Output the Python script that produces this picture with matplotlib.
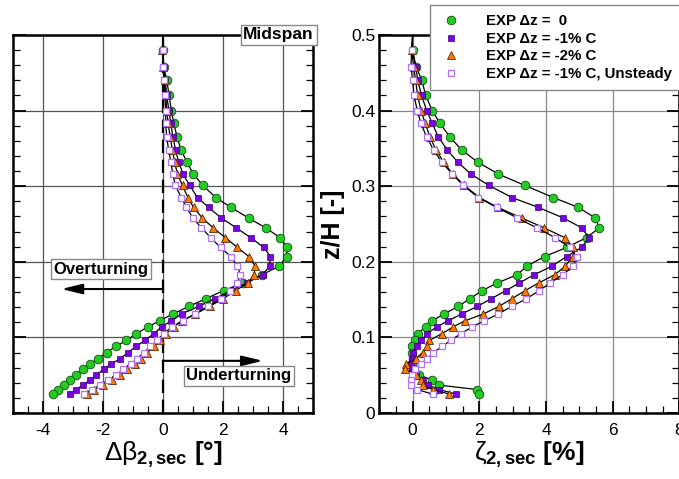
"""
plot.py
=======
Secondary flow profiles downstream of the cascade: pitch-averaged secondary
flow angle deviation and secondary loss coefficient over span (hub to midspan)
for three endwall offsets plus the unsteady -1% C case.
"""

import numpy as np
import matplotlib
matplotlib.use("Agg")
import matplotlib.pyplot as plt
from matplotlib.lines import Line2D
from matplotlib.ticker import MultipleLocator, FuncFormatter

plt.rcParams['font.family'] = ['Liberation Sans', 'DejaVu Sans']
plt.rcParams['mathtext.fontset'] = 'custom'
plt.rcParams['mathtext.rm'] = 'Liberation Sans'
plt.rcParams['mathtext.it'] = 'Liberation Sans'
plt.rcParams['mathtext.bf'] = 'Liberation Sans:bold'

# -----------------------------------------------------------------------------
# Measured profiles (first entry is the midspan anchor, drawn without marker)
# -----------------------------------------------------------------------------
SERIES_LABELS = [
    "EXP \u0394z =  0",
    "EXP \u0394z = -1% C",
    "EXP \u0394z = -2% C",
    "EXP \u0394z = -1% C, Unsteady",
]

Z_SPAN = [0.50, 0.48, 0.458, 0.44, 0.42, 0.40, 0.383, 0.365, 0.348, 0.332,
          0.316, 0.301, 0.285, 0.272, 0.258, 0.245, 0.232, 0.219, 0.207, 0.194,
          0.183, 0.172, 0.162, 0.151, 0.141, 0.131, 0.122, 0.114, 0.105, 0.096,
          0.088, 0.080, 0.072, 0.065, 0.058, 0.050, 0.044, 0.037, 0.031, 0.025]

# delta beta_2,sec [deg]
DBETA_DZ0 = [0.0, 0.0, 0.02, 0.13, 0.2, 0.28, 0.36, 0.47, 0.6, 0.8,
             1.01, 1.33, 1.76, 2.26, 2.85, 3.42, 3.9, 4.14, 4.12, 3.87,
             3.3, 2.68, 2.02, 1.42, 0.86, 0.33, -0.11, -0.5, -0.89, -1.22,
             -1.58, -1.88, -2.17, -2.43, -2.67, -2.89, -3.1, -3.31, -3.5, -3.67]
DBETA_DZ1 = [0.0, 0.0, 0.02, 0.08, 0.12, 0.2, 0.26, 0.33, 0.42, 0.52,
             0.67, 0.89, 1.15, 1.52, 1.94, 2.44, 2.92, 3.36, 3.58, 3.55,
             3.32, 2.8, 2.25, 1.72, 1.19, 0.62, 0.28, -0.05, -0.3, -0.61,
             -0.89, -1.17, -1.42, -1.72, -1.98, -2.22, -2.42, -2.67, -2.89, -3.11]
DBETA_DZ2 = [0.0, -0.02, 0.0, 0.05, 0.09, 0.13, 0.17, 0.24, 0.31, 0.39,
             0.48, 0.65, 0.83, 1.02, 1.31, 1.67, 2.08, 2.48, 2.86, 3.08,
             3.03, 2.83, 2.42, 2.0, 1.55, 1.08, 0.62, 0.35, 0.11, -0.09,
             -0.3, -0.52, -0.75, -0.94, -1.2, -1.44, -1.69, -2.0, -2.3, -2.55]
DBETA_DZ1_UNST = [0.0, 0.0, 0.0, 0.03, 0.06, 0.09, 0.09, 0.12, 0.19, 0.26,
                  0.33, 0.41, 0.61, 0.78, 1.0, 1.28, 1.59, 1.92, 2.26, 2.48,
                  2.58, 2.48, 2.24, 1.92, 1.5, 1.05, 0.68, 0.3, 0.02, -0.2,
                  -0.42, -0.64, -0.86, -1.08, -1.32, -1.56, -1.82, -2.1, -2.38, -2.65]

# zeta_2,sec [%]
ZETA_DZ0 = [0.0, 0.0, 0.1, 0.28, 0.39, 0.59, 0.82, 1.12, 1.47, 1.95,
            2.57, 3.37, 4.22, 4.97, 5.48, 5.6, 5.22, 4.62, 3.96, 3.42,
            3.14, 2.54, 2.09, 1.71, 1.37, 0.94, 0.59, 0.39, 0.15, 0.07,
            -0.01, -0.03, 0.0, -0.02, 0.02, 0.2, 0.58, 0.78, 1.94, 1.98]
ZETA_DZ1 = [0.0, -0.02, 0.1, 0.15, 0.27, 0.42, 0.59, 0.77, 1.04, 1.35,
            1.75, 2.29, 2.98, 3.77, 4.52, 5.07, 5.29, 5.07, 4.62, 4.17,
            3.65, 3.2, 2.8, 2.35, 1.94, 1.47, 1.07, 0.72, 0.44, 0.25,
            0.12, 0.02, -0.01, -0.04, -0.02, 0.1, 0.3, 0.45, 0.8, 1.3]
ZETA_DZ2 = [0.0, -0.03, 0.03, 0.09, 0.15, 0.25, 0.38, 0.52, 0.7, 0.93,
            1.2, 1.55, 2.0, 2.55, 3.27, 3.94, 4.56, 4.82, 4.82, 4.57,
            4.27, 3.78, 3.38, 2.97, 2.59, 2.12, 1.57, 1.22, 0.88, 0.5,
            0.42, 0.3, 0.1, -0.2, -0.22, 0.1, 0.25, 0.3, 0.6, 1.1]
ZETA_DZ1_UNST = [0.0, -0.03, -0.05, 0.0, 0.04, 0.14, 0.25, 0.42, 0.63, 0.87,
                 1.19, 1.52, 1.97, 2.52, 3.14, 3.72, 4.27, 4.72, 4.92, 4.82,
                 4.5, 4.13, 3.8, 3.41, 2.97, 2.57, 2.15, 1.79, 1.45, 1.14,
                 0.89, 0.62, 0.44, 0.25, 0.07, -0.03, -0.06, -0.04, 0.14, 0.6]

MARKER_STYLES = [
    dict(marker='o', ms=6.2, mfc='#22cc22', mec='#105010', mew=0.6),
    dict(marker='s', ms=4.3, mfc='#7a00e6', mec='#3a0070', mew=0.5),
    dict(marker='^', ms=6.2, mfc='#ff7a00', mec='#5a2800', mew=0.6),
    dict(marker='s', ms=4.8, mfc='white', mec='#b070ff', mew=0.9),
]


def draw_profiles(ax, z, profiles):
    """One black polyline per case, markers on every measured station."""
    z = np.asarray(z)
    for vals, style in zip(profiles, MARKER_STYLES):
        ax.plot(np.asarray(vals), z, color='black', lw=0.9,
                markevery=range(1, len(z)), zorder=4, **style)


def style_axes(ax, xlim, xstep, grid_color):
    ax.set_xlim(*xlim)
    ax.set_ylim(0, 0.5)
    ax.xaxis.set_major_locator(MultipleLocator(xstep))
    ax.xaxis.set_minor_locator(MultipleLocator(0.5))
    ax.yaxis.set_major_locator(MultipleLocator(0.1))
    ax.yaxis.set_minor_locator(MultipleLocator(0.02))
    ax.yaxis.set_major_formatter(FuncFormatter(lambda v, p: '0' if abs(v) < 1e-9 else f'{v:.1f}'))
    ax.xaxis.set_major_formatter(FuncFormatter(lambda v, p: f'{v:.0f}'))
    ax.grid(True, which='major', color=grid_color, lw=0.9)
    ax.set_axisbelow(True)
    ax.tick_params(which='both', direction='in', top=False, right=True, labelsize=12.5)
    ax.tick_params(which='major', length=9, width=1.3)
    ax.tick_params(which='minor', length=5, width=0.9)
    ax.tick_params(axis='x', pad=7)
    ax.tick_params(axis='y', pad=3)
    for sp in ax.spines.values():
        sp.set_linewidth(1.8)


def main():
    fig = plt.figure(figsize=(6.79, 4.79), dpi=100)
    W, H = 679.0, 479.0
    ax1 = fig.add_axes([13 / W, 1 - 413 / H, 300 / W, 378 / H])
    ax2 = fig.add_axes([379.3 / W, 1 - 413 / H, 300 / W, 378 / H])

    # Left panel: secondary flow angle deviation
    style_axes(ax1, (-5, 5), 2, '#555555')
    ax1.tick_params(labelleft=False)
    ax1.axvline(0, color='black', lw=1.6, ls=(0, (6, 3)), zorder=3)
    draw_profiles(ax1, Z_SPAN, [DBETA_DZ0, DBETA_DZ1, DBETA_DZ2, DBETA_DZ1_UNST])
    ax1.set_xlabel(r'$\Delta\beta_{\mathbf{2,sec}}$ $\mathbf{[°]}$', fontsize=19, labelpad=1)

    box = dict(boxstyle='square,pad=0.15', fc='white', ec='#888888', lw=1.0)
    ax1.text(1.003, 1.0, 'Midspan', transform=ax1.transAxes, ha='right', va='center',
             fontsize=12.5, fontweight='bold', bbox=box, zorder=6, clip_on=False)
    ax1.text(-2.06, 0.19, 'Overturning', ha='center', va='center',
             fontsize=12, fontweight='bold', bbox=box, zorder=6)
    ax1.text(2.52, 0.049, 'Underturning', ha='center', va='center',
             fontsize=12, fontweight='bold', bbox=box, zorder=6)
    arrow = dict(arrowstyle='-|>,head_length=0.7,head_width=0.17', color='black',
                 lw=1.5, mutation_scale=18, shrinkA=0, shrinkB=0)
    ax1.annotate('', xy=(-3.39, 0.164), xytext=(0, 0.164), arrowprops=arrow, zorder=6)
    ax1.annotate('', xy=(3.33, 0.069), xytext=(0, 0.069), arrowprops=arrow, zorder=6)

    # Right panel: secondary loss coefficient
    style_axes(ax2, (-1, 8), 2, '#888888')
    draw_profiles(ax2, Z_SPAN, [ZETA_DZ0, ZETA_DZ1, ZETA_DZ2, ZETA_DZ1_UNST])
    ax2.set_xlabel(r'$\zeta_{\mathbf{2,sec}}$ $\mathbf{[\%]}$', fontsize=19, labelpad=1)
    ax2.set_ylabel('z/H [-]', fontsize=18, fontweight='bold')
    ax2.yaxis.set_label_coords(-0.115, 0.5)

    handles = [Line2D([], [], ls='none', **st) for st in MARKER_STYLES]
    leg = fig.legend(handles, SERIES_LABELS, loc='upper left',
                     bbox_to_anchor=(430 / W, 1 - 5 / H), bbox_transform=fig.transFigure,
                     prop=dict(size=10.8, weight='bold'), frameon=True, fancybox=False,
                     framealpha=1, edgecolor='#888888', borderpad=0.6, handlelength=1.6,
                     handletextpad=1.55, labelspacing=0.25, borderaxespad=0)
    leg.get_frame().set_linewidth(1.0)
    leg.set_zorder(10)

    fig.savefig('out.png', dpi=100)


if __name__ == "__main__":
    main()
